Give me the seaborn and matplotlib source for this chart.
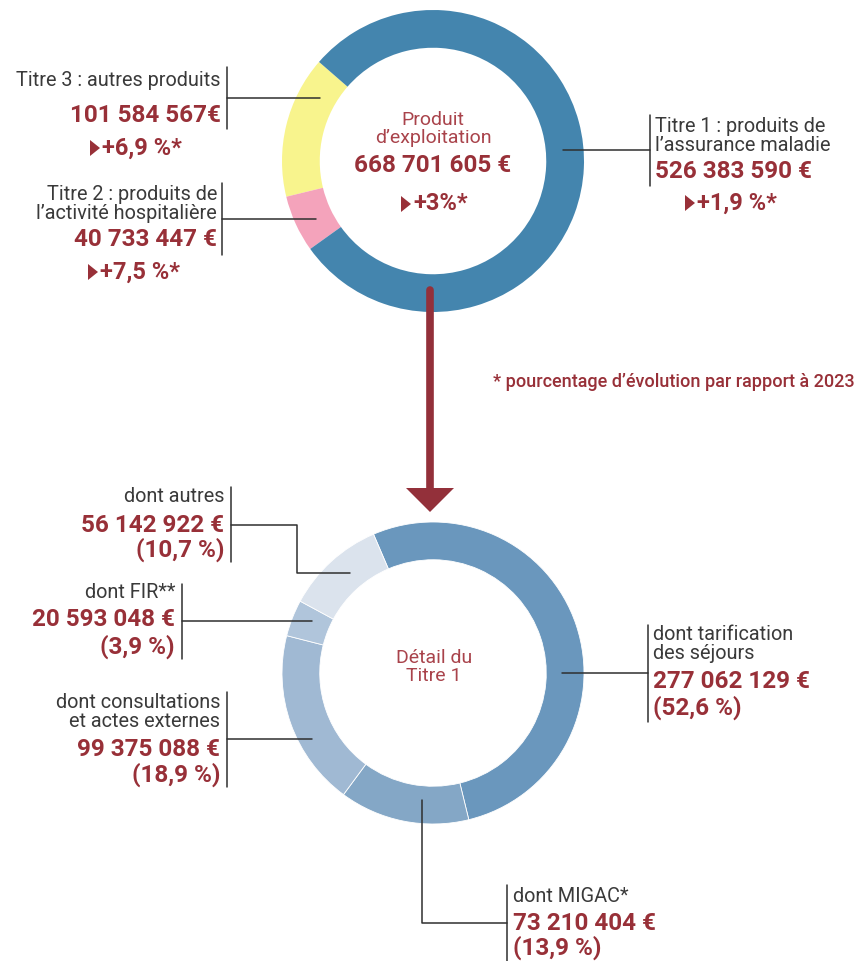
import matplotlib
matplotlib.use("Agg")
import matplotlib.pyplot as plt
import seaborn as sns
from matplotlib.patches import Polygon

# data
top_names = ["Titre 1 : produits de\nl’assurance maladie",
             "Titre 2 : produits de\nl’activité hospitalière",
             "Titre 3 : autres produits"]
top_values = [526383590, 40733447, 101584567]
top_amounts = ["526 383 590 €", "40 733 447 €", "101 584 567€"]
top_evol = ["+1,9 %*", "+7,5 %*", "+6,9 %*"]
top_colors = ["#4485ae", "#f4a3bb", "#f8f48d"]
total_amount = "668 701 605 €"
total_evol = "+3%*"

detail_names = ["dont tarification\ndes séjours", "dont MIGAC*",
                "dont consultations\net actes externes", "dont FIR**", "dont autres"]
detail_values = [277062129, 73210404, 99375088, 20593048, 56142922]
detail_amounts = ["277 062 129 €", "73 210 404 €", "99 375 088 €", "20 593 048 €", "56 142 922 €"]
detail_pct = ["(52,6 %)", "(13,9 %)", "(18,9 %)", "(3,9 %)", "(10,7 %)"]
detail_colors = ["#6a97bd", "#84a7c6", "#a0b9d3", "#b0c5db", "#dbe3ed"]

sns.set_theme(style="white")
plt.rcParams['font.family'] = ['Roboto', 'DejaVu Sans']

W, H = 860, 961
fig = plt.figure(figsize=(W / 100, H / 100), dpi=100)

red = "#983038"
lightred = "#a9434b"
grey = "#3a3a3a"


def donut_axes(cx, cy, r):
    ax = fig.add_axes([(cx - r) / W, 1 - (cy + r) / H, 2 * r / W, 2 * r / H])
    return ax


def finish(ax):
    ax.set_xlim(-1, 1)
    ax.set_ylim(-1, 1)
    ax.set_aspect("equal")
    ax.axis("off")


# top donut: titre 3, titre 2, titre 1 counter-clockwise
ax1 = donut_axes(433, 161, 151)
order = [2, 1, 0]
ax1.pie([top_values[i] for i in order], colors=[top_colors[i] for i in order],
        startangle=139, counterclock=True, radius=1,
        wedgeprops=dict(width=0.25, linewidth=0))
finish(ax1)

# bottom donut: detail of titre 1, clockwise
ax2 = donut_axes(433, 673, 151)
ax2.pie(detail_values, colors=detail_colors, startangle=113.2, counterclock=False,
        radius=1, wedgeprops=dict(width=0.25, linewidth=0.6, edgecolor="white"))
finish(ax2)

# overlay for labels and leader lines, in pixel coords
ov = fig.add_axes([0, 0, 1, 1], zorder=5)
ov.set_xlim(0, W)
ov.set_ylim(H, 0)
ov.axis("off")
ov.patch.set_alpha(0)

lk = dict(color="#2f2f2f", lw=1.1)
sz_lab, sz_num, sz_ev = 14.3, 17.5, 17


def lab(x, y, s, ha, **kw):
    ov.text(x, y, s, ha=ha, va="center", fontsize=sz_lab, color=grey,
            fontweight="normal", linespacing=0.95, **kw)


def num(x, y, s, ha, size=sz_num):
    ov.text(x, y, s, ha=ha, va="center", fontsize=size, color=red, fontweight="bold")


def evol(x, y, s):
    # small solid triangle then the percentage
    ov.add_patch(Polygon([[x, y - 8], [x, y + 8], [x + 10, y]], closed=True,
                         color=red, lw=0))
    num(x + 12, y, s, "left", sz_ev)


# ---- top labels ----
# titre 1 (right)
ov.plot([563, 650], [150, 150], **lk)
ov.plot([650, 650], [115, 186], **lk)
lab(655, 136, top_names[0], "left")
num(655, 172, top_amounts[0], "left")
evol(685, 203, top_evol[0])

# titre 3 (upper left)
ov.plot([227, 320], [98, 98], **lk)
ov.plot([227, 227], [67, 129], **lk)
lab(221, 81, top_names[2], "right")
num(221, 115, top_amounts[2], "right")
evol(90, 148, top_evol[2])

# titre 2 (lower left)
ov.plot([222, 316], [219, 219], **lk)
ov.plot([222, 222], [183, 255], **lk)
lab(217, 204, top_names[1], "right")
num(217, 240, top_amounts[1], "right")
evol(88, 272, top_evol[1])

# centre top
ov.text(433, 129, "Produit\nd’exploitation", ha="center", va="center", fontsize=14,
        color=lightred, fontweight="normal", linespacing=0.95)
num(433, 165, total_amount, "center")
evol(401, 204, total_evol)

# arrow
ov.plot([430, 430], [290, 492], color="#93303a", lw=5.5, solid_capstyle="round")
ov.add_patch(Polygon([[406, 488], [454, 488], [430, 512]], closed=True,
                     color="#93303a", lw=0))

ov.text(855, 382, "* pourcentage d’évolution par rapport à 2023", ha="right",
        va="center", fontsize=13, color=red, fontweight="medium")

# ---- bottom labels ----
# tarification (right)
ov.plot([562, 648], [673, 673], **lk)
ov.plot([648, 648], [625, 722], **lk)
lab(653, 644, detail_names[0], "left")
num(653, 682, detail_amounts[0], "left")
num(653, 708, detail_pct[0], "left")

# MIGAC (bottom)
ov.plot([422, 422, 507], [800, 923, 923], **lk)
ov.plot([507, 507], [885, 961], **lk)
lab(513, 896, detail_names[1], "left")
num(513, 923, detail_amounts[1], "left")
num(513, 948, detail_pct[1], "left")

# consultations (left)
ov.plot([227, 312], [739, 739], **lk)
ov.plot([227, 227], [692, 787], **lk)
lab(220, 712, detail_names[2], "right")
num(220, 749, detail_amounts[2], "right")
num(220, 775, detail_pct[2], "right")

# FIR (left)
ov.plot([182, 312], [621, 621], **lk)
ov.plot([182, 182], [584, 659], **lk)
lab(175, 593, detail_names[3], "right")
num(175, 620, detail_amounts[3], "right")
num(175, 647, detail_pct[3], "right")

# autres (upper left)
ov.plot([231, 297, 297, 350], [525, 525, 573, 573], **lk)
ov.plot([231, 231], [487, 562], **lk)
lab(224, 497, detail_names[4], "right")
num(224, 525, detail_amounts[4], "right")
num(224, 550, detail_pct[4], "right")

# centre bottom
ov.text(434, 667, "Détail du\nTitre 1", ha="center", va="center", fontsize=14,
        color=lightred, fontweight="normal", linespacing=0.95)

fig.savefig("out.png", dpi=100)
